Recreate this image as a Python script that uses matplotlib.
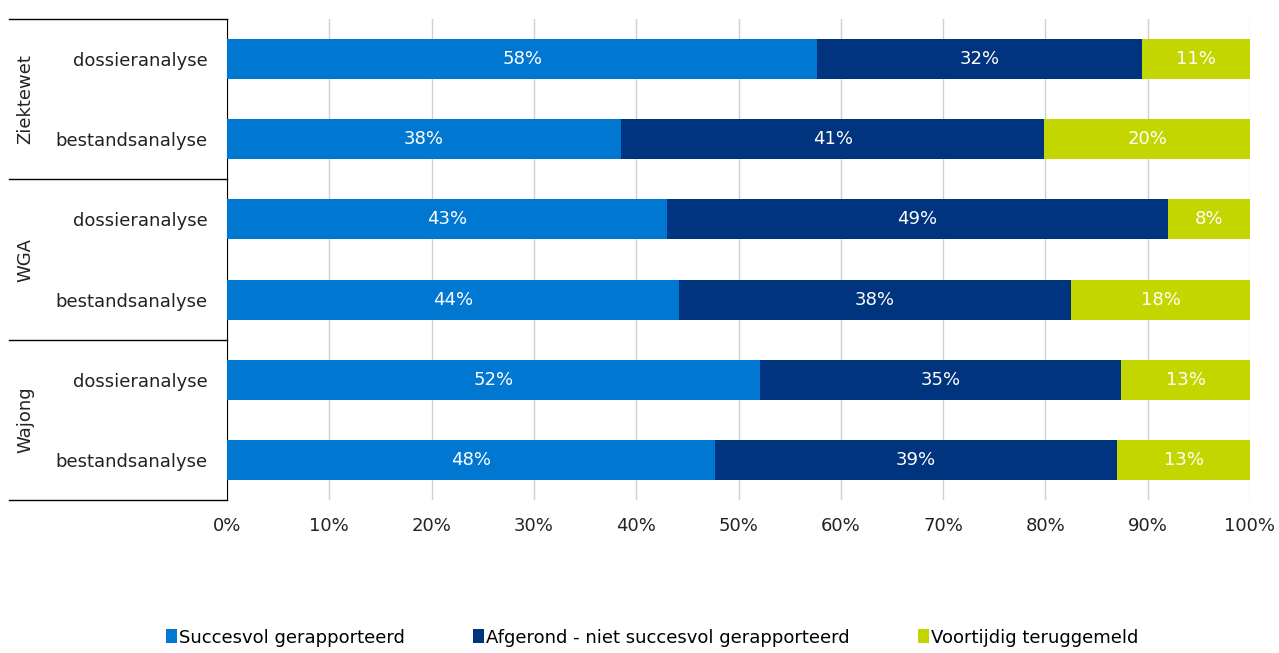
import numpy as np
import matplotlib.pyplot as plt
from matplotlib.transforms import blended_transform_factory

groups = ["Ziektewet", "WGA", "Wajong"]
categories = ["dossieranalyse", "bestandsanalyse"] * 3
succesvol = [57.7, 38.5, 43.0, 44.2, 52.1, 47.7]
afgerond = [31.7, 41.4, 49.0, 38.3, 35.3, 39.3]
voortijdig = [10.6, 20.1, 8.0, 17.5, 12.6, 13.0]
series_names = ["Succesvol gerapporteerd",
                "Afgerond - niet succesvol gerapporteerd",
                "Voortijdig teruggemeld"]
colors = ["#0078D2", "#00347F", "#C4D600"]

fig = plt.figure(figsize=(12.79, 6.53), dpi=100)
ax = fig.add_axes([227 / 1279, 1 - 500 / 653, 1023 / 1279, 481 / 653])

y = np.arange(len(categories))
left = np.zeros(len(categories))
for vals, name, col in zip([succesvol, afgerond, voortijdig], series_names, colors):
    vals = np.array(vals)
    bars = ax.barh(y, vals, left=left, height=0.5, color=col, label=name, zorder=3)
    for b, v in zip(bars, vals):
        ax.text(b.get_x() + b.get_width() / 2, b.get_y() + b.get_height() / 2,
                f"{round(v):.0f}%", ha="center", va="center", color="white",
                fontsize=13, zorder=4)
    left += vals

ax.set_xlim(0, 100)
ax.set_ylim(len(categories) - 0.5, -0.5)
ax.set_xticks(np.arange(0, 101, 10))
ax.set_xticklabels([f"{t}%" for t in range(0, 101, 10)], fontsize=13)
ax.set_yticks(y)
ax.set_yticklabels(categories, fontsize=13)
ax.tick_params(axis="both", length=0, colors="#222222")
ax.tick_params(axis="x", pad=12)
ax.tick_params(axis="y", pad=14)
ax.xaxis.grid(True, color="#d0d0d0", linewidth=1, zorder=0)
for s in ["top", "right", "bottom"]:
    ax.spines[s].set_visible(False)
ax.spines["left"].set_color("black")

# group separators and labels on the left
tr = blended_transform_factory(ax.transAxes, ax.transData)
for b in [-0.5, 1.5, 3.5, 5.5]:
    ax.plot([-0.213, 0], [b, b], color="black", linewidth=1, transform=tr, clip_on=False)
for i, g in enumerate(groups):
    ax.text(-0.197, 2 * i + 0.5, g, rotation=90, ha="center", va="center",
            fontsize=13, color="#222222", transform=tr)

fig.legend(loc="lower center", bbox_to_anchor=(0.51, -0.015), ncol=3, frameon=False,
           fontsize=13, handlelength=0.6, handleheight=0.8, handletextpad=0.1,
           columnspacing=3.8)

fig.savefig("out.png", dpi=100)
